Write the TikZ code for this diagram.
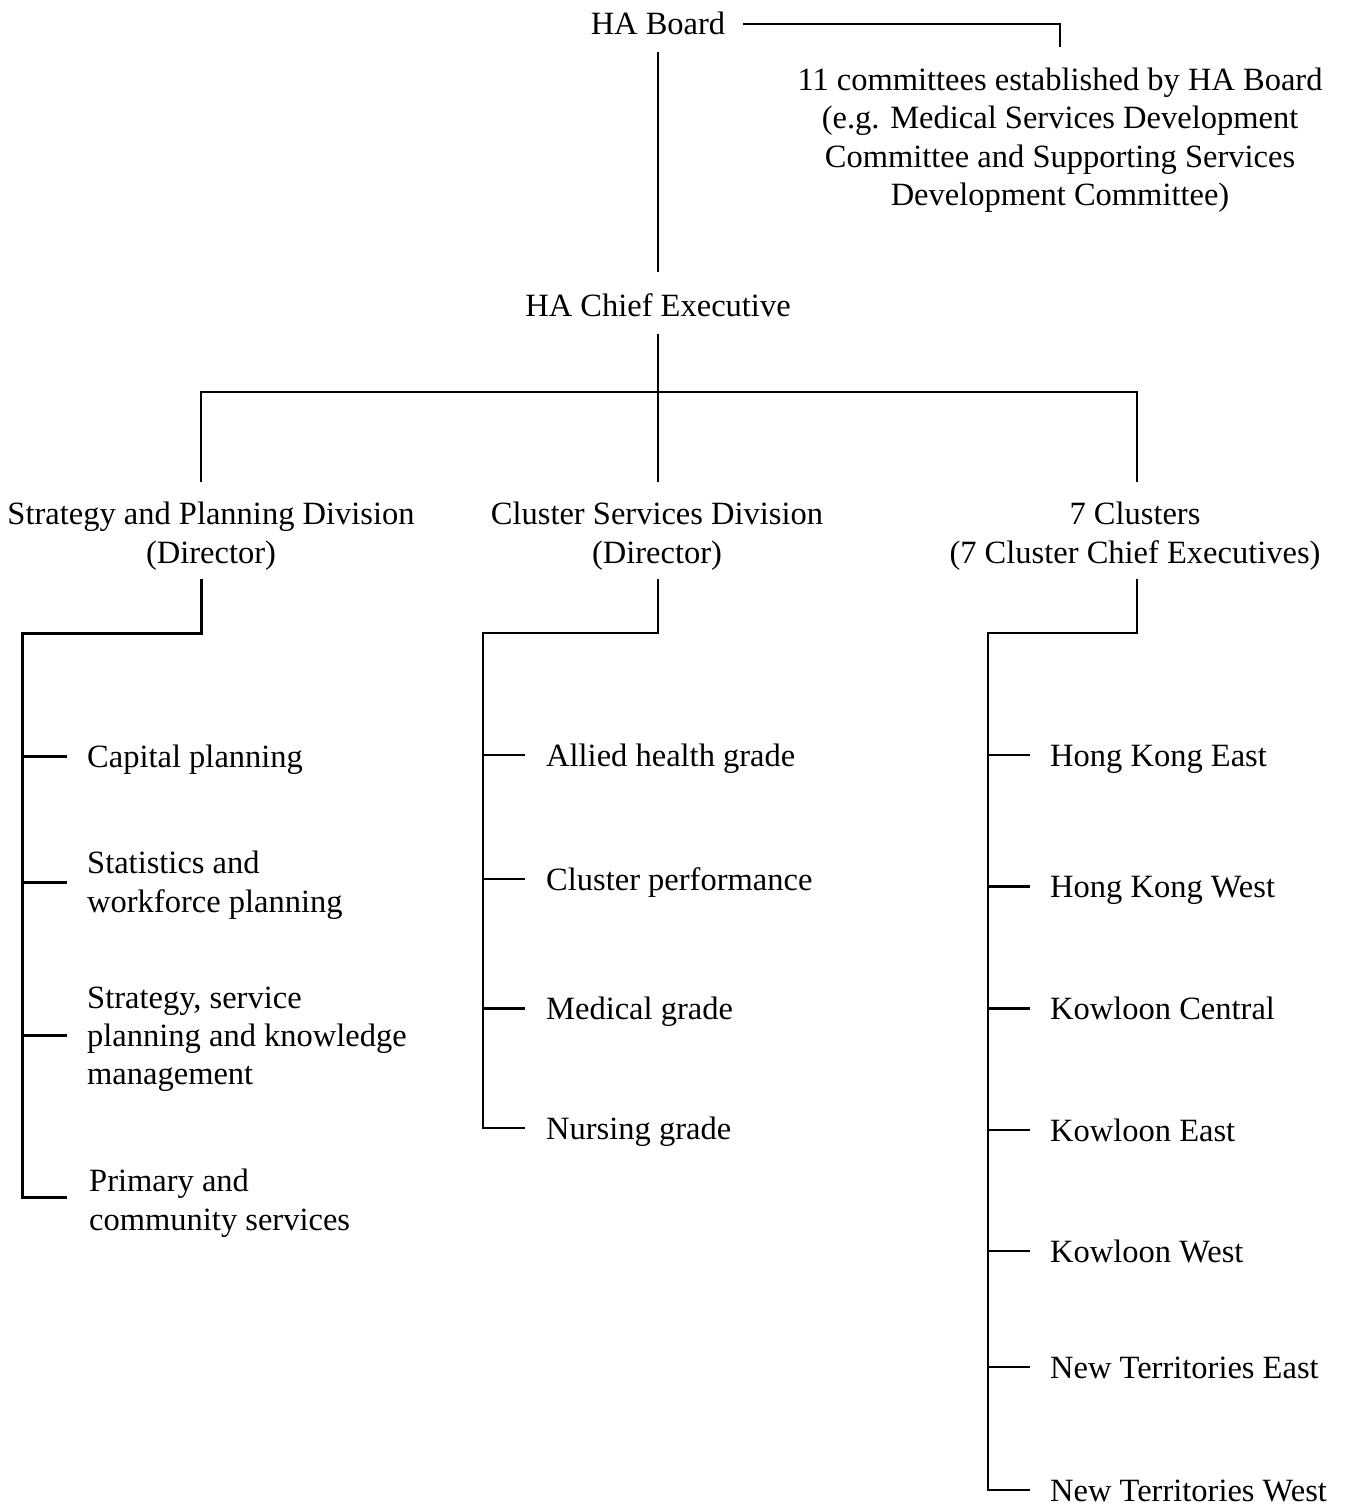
\documentclass[tikz,border=0pt]{standalone}
\usepackage{fontspec}
\setmainfont{Liberation Serif}
\begin{document}
\begin{tikzpicture}[x=1pt,y=-1pt,
  lbl/.style={inner sep=0pt, text height=22pt, text depth=0pt, font=\fontsize{32.5}{38.3}\selectfont},
  two/.style={text height=60.3pt},
  three/.style={text height=98.6pt},
  four/.style={text height=136.9pt},
  ml/.style={lbl, align=center},
  item/.style={lbl, anchor=west, align=left},
  conn/.style={draw=black, line width=2.2pt},
  lconn/.style={draw=black, line width=3pt},
  bconn/.style={draw=black, line width=3pt}]
\useasboundingbox (0,0) rectangle (1357,1506);

% top
\node[lbl] (board) at (658,24) {HA Board};
\node[ml, four] (comm) at (1060,137) {11 committees established by HA Board\\(e.g. Medical Services Development\\Committee and Supporting Services\\Development Committee)};
\node[lbl] (chief) at (658,305) {HA Chief Executive};

% divisions
\node[ml, two] (spd) at (211,533) {Strategy and Planning Division\\(Director)};
\node[ml, two] (csd) at (657,533) {Cluster Services Division\\(Director)};
\node[ml, two] (clu) at (1135,533) {7 Clusters\\(7 Cluster Chief Executives)};

% left items
\node[item] (cap) at (87,756) {Capital planning};
\node[item, two] (stat) at (87,882) {Statistics and\\workforce planning};
\node[item, three] (strat) at (87,1035.5) {Strategy, service\\planning and knowledge\\management};
\node[item, two] (prim) at (89,1200) {Primary and\\community services};

% middle items
\node[item] (allied) at (546,755) {Allied health grade};
\node[item] (cperf) at (546,879) {Cluster performance};
\node[item] (med) at (546,1008) {Medical grade};
\node[item] (nurs) at (546,1128) {Nursing grade};

% right items
\node[item] (hke) at (1050,755) {Hong Kong East};
\node[item] (hkw) at (1050,886) {Hong Kong West};
\node[item] (kc) at (1050,1008) {Kowloon Central};
\node[item] (ke) at (1050,1130) {Kowloon East};
\node[item] (kw) at (1050,1251) {Kowloon West};
\node[item] (nte) at (1050,1367) {New Territories East};
\node[item] (ntw) at (1050,1490) {New Territories West};

% junctions
\coordinate (bus) at (658,392);
\coordinate (LT) at (22,633);
\coordinate (MT) at (483,633);
\coordinate (RT) at (988,633);

% top connectors
\draw[conn] ([xshift=18pt]board.east) -| ([yshift=21pt]comm.north);
\draw[conn] ([yshift=-17pt]board.south) -- ([yshift=22pt]chief.north);
\draw[conn] ([yshift=-18pt]chief.south) -- (bus);
\draw[conn] ([xshift=-10pt,yshift=21pt]spd.north) |- (bus) -| ([xshift=2pt,yshift=21pt]clu.north);
\draw[conn, shorten >=21pt] (bus) -- (bus |- csd.north);

% left branch
\draw[lconn] ([xshift=-10pt,yshift=-16pt]spd.south) |- (LT) |- ([xshift=-22pt,yshift=3pt]prim.west);
\draw[lconn] (LT |- cap.west) -- ([xshift=-20pt]cap.west);
\draw[lconn] (LT |- stat.west) -- ([xshift=-20pt]stat.west);
\draw[lconn] (LT |- strat.west) -- ([xshift=-20pt]strat.west);

% middle branch
\draw[conn] ([xshift=1pt,yshift=-16pt]csd.south) |- (MT) |- ([xshift=-21pt]nurs.west);
\draw[conn] (MT |- allied.west) -- ([xshift=-21pt]allied.west);
\draw[conn] (MT |- cperf.west) -- ([xshift=-21pt]cperf.west);
\draw[bconn] (MT |- med.west) -- ([xshift=-21pt]med.west);

% right branch
\draw[conn] ([xshift=2pt,yshift=-16pt]clu.south) |- (RT) |- ([xshift=-20pt]ntw.west);
\draw[conn] (RT |- hke.west) -- ([xshift=-20pt]hke.west);
\draw[bconn] (RT |- hkw.west) -- ([xshift=-20pt]hkw.west);
\draw[bconn] (RT |- kc.west) -- ([xshift=-20pt]kc.west);
\draw[conn] (RT |- ke.west) -- ([xshift=-20pt]ke.west);
\draw[conn] (RT |- kw.west) -- ([xshift=-20pt]kw.west);
\draw[conn] (RT |- nte.west) -- ([xshift=-20pt]nte.west);
\end{tikzpicture}
\end{document}
